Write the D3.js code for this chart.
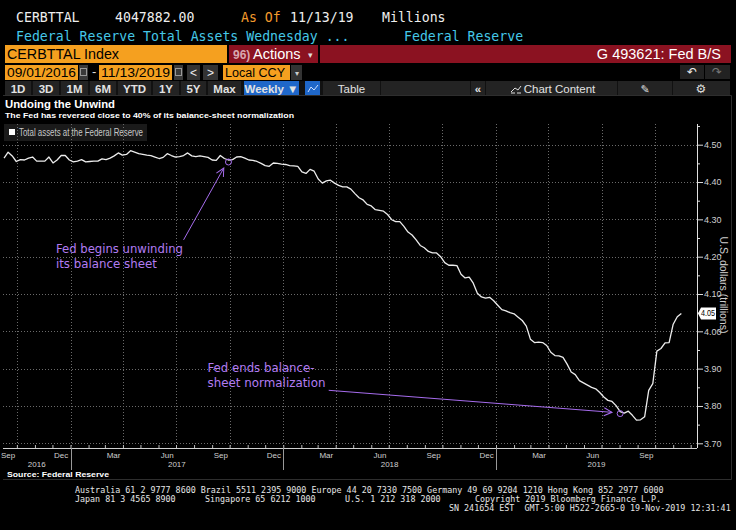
<!DOCTYPE html>
<html>
<head>
<meta charset="utf-8">
<script src="https://cdn.jsdelivr.net/npm/d3@7"></script>
<style>
body { margin: 0; background: #000; }
svg { display: block; }
</style>
</head>
<body>
<script>
// weekly total assets, trillions of dollars (week ending dates from firstWeek)
var firstWeek = "2016-09-09";
var assets = [
	4.464, 4.480, 4.470, 4.455, 4.460, 4.459, 4.464, 4.467, 4.456, 4.456,
	4.456, 4.467, 4.451, 4.459, 4.471, 4.471, 4.459, 4.454, 4.456, 4.460,
	4.454, 4.455, 4.456, 4.456, 4.462, 4.460, 4.464, 4.470, 4.478, 4.472,
	4.474, 4.484, 4.480, 4.476, 4.474, 4.472, 4.471, 4.467, 4.463, 4.466,
	4.476, 4.471, 4.467, 4.468, 4.471, 4.478, 4.470, 4.468, 4.470, 4.468,
	4.466, 4.459, 4.458, 4.471, 4.463, 4.459, 4.460, 4.467, 4.468, 4.464,
	4.459, 4.458, 4.455, 4.450, 4.444, 4.442, 4.451, 4.450, 4.448, 4.447,
	4.444, 4.443, 4.442, 4.427, 4.423, 4.434, 4.429, 4.408, 4.397, 4.403,
	4.405, 4.397, 4.391, 4.387, 4.387, 4.381, 4.369, 4.358, 4.352, 4.340,
	4.336, 4.326, 4.324, 4.322, 4.313, 4.299, 4.294, 4.294, 4.281, 4.266,
	4.258, 4.245, 4.230, 4.224, 4.214, 4.210, 4.210, 4.200, 4.184, 4.177,
	4.177, 4.176, 4.153, 4.143, 4.145, 4.129, 4.102, 4.092, 4.089, 4.091,
	4.082, 4.070, 4.058, 4.055, 4.050, 4.047, 4.038, 4.029, 4.014, 3.979,
	3.970, 3.971, 3.970, 3.962, 3.944, 3.935, 3.934, 3.930, 3.912, 3.891,
	3.884, 3.868, 3.862, 3.856, 3.850, 3.846, 3.836, 3.824, 3.815, 3.812,
	3.801, 3.785, 3.781, 3.786, 3.775, 3.762, 3.763, 3.771, 3.842, 3.860,
	3.947, 3.954, 3.969, 3.970, 4.019, 4.039, 4.048
];
var yTicks = [3.70, 3.80, 3.90, 4.00, 4.10, 4.20, 4.30, 4.40, 4.50];
var yMinor = [3.75, 3.85, 3.95, 4.05, 4.15, 4.25, 4.35, 4.45, 4.55];
var labelMonths = ["2016-09", "2016-12", "2017-03", "2017-06", "2017-09", "2017-12", "2018-03",
	"2018-06", "2018-09", "2018-12", "2019-03", "2019-06", "2019-09"];
var years = [2016, 2017, 2018, 2019];
var lastValue = "4.05";

var notes = [
	{ text: ["Fed begins unwinding", "its balance sheet"], widths: [127, 101],
		textAt: ["2016-12-07", 4.210], from: ["2017-07-14", 4.245], to: ["2017-09-21", 4.4375], point: 55 },
	{ text: ["Fed ends balance-", "sheet normalization"], widths: [107, 118],
		textAt: ["2017-08-24", 3.891], from: ["2018-03-20", 3.842], to: ["2019-07-19", 3.783], point: 151 }
];

var mono = "'DejaVu Sans Mono', 'Liberation Mono', monospace";
var sans = "'Liberation Sans', Arial, sans-serif";
var orange = "#f5a01f";
var red = "#8b1221";
var cyan = "#45c8e8";
var purple = "#a66ced";

var parseDay = d3.timeParse("%Y-%m-%d");
var parseMonth = d3.timeParse("%Y-%m");
var start = parseDay(firstWeek);
var dates = assets.map(function (v, i) { return d3.timeDay.offset(start, 7 * i); });

var svg = d3.select("body")
	.append("svg")
	.attr("width", 736)
	.attr("height", 530)
	.style("background", "#000");

function text(g, x, y, s, size, fill, font) {
	return g.append("text")
		.attr("x", x)
		.attr("y", y)
		.attr("font-family", font || sans)
		.attr("font-size", size + "px")
		.attr("fill", fill)
		.text(s);
}

function box(x0, x1, y0, y1, fill) {
	return svg.append("rect")
		.attr("x", x0)
		.attr("y", y0)
		.attr("width", x1 - x0)
		.attr("height", y1 - y0)
		.attr("fill", fill);
}

// ---- terminal header
text(svg, 16, 22, "CERBTTAL", 13.2, "#eee", mono);
text(svg, 115, 22, "4047882.00", 13.2, "#eee", mono);
text(svg, 241, 22, "As Of", 13.2, "#f39a2c", mono);
text(svg, 290, 22, "11/13/19", 13.2, "#eee", mono);
text(svg, 382, 22, "Millions", 13.2, "#eee", mono);
text(svg, 16, 41, "Federal Reserve Total Assets Wednesday ...", 13.2, cyan, mono);
text(svg, 404, 41, "Federal Reserve", 13.2, cyan, mono);

box(5, 227, 45, 63, orange);
text(svg, 7, 59, "CERBTTAL Index", 15, "#000").attr("textLength", 112).attr("lengthAdjust", "spacingAndGlyphs");
box(229, 318, 45, 63, red);
text(svg, 233, 59, "96)", 12, "#d8a8b0").attr("font-weight", "bold");
text(svg, 253, 59, "Actions", 14.5, "#fff");
text(svg, 308, 58, "\u25BE", 9, "#ddd");
box(320, 731, 45, 63, red);
text(svg, 721, 59, "G 493621: Fed B/S", 14.5, "#fff").attr("text-anchor", "end");

box(5, 78, 65, 80, orange);
text(svg, 7, 77, "09/01/2016", 12.5, "#000").attr("textLength", 69).attr("lengthAdjust", "spacingAndGlyphs");
box(79, 88, 65, 80, "#3a3a3a");
box(99, 172, 65, 80, orange);
text(svg, 101, 77, "11/13/2019", 12.5, "#000").attr("textLength", 69).attr("lengthAdjust", "spacingAndGlyphs");
box(174, 183, 65, 80, "#3a3a3a");
[80.5, 175.5].forEach(function (x) {
	svg.append("rect").attr("x", x).attr("y", 68.5).attr("width", 6).attr("height", 7)
		.attr("fill", "none").attr("stroke", "#999");
});
text(svg, 92, 76, "-", 13, "#ddd");
box(187, 200, 65, 80, "#333");
text(svg, 193.5, 77, "<", 12, "#eee").attr("text-anchor", "middle");
box(203, 218, 65, 80, "#333");
text(svg, 210.5, 77, ">", 12, "#eee").attr("text-anchor", "middle");
box(223, 290, 65, 80, orange);
text(svg, 225, 77, "Local CCY", 12.5, "#000").attr("textLength", 60).attr("lengthAdjust", "spacingAndGlyphs");
box(291, 302, 65, 80, "#333");
text(svg, 296.5, 76, "\u25BE", 8, "#ccc").attr("text-anchor", "middle");
box(680, 704, 65, 79, "#222");
box(705, 730, 65, 79, "#222");
text(svg, 692, 76, "\u21B6", 12, "#eee", "'DejaVu Sans'").attr("text-anchor", "middle");
text(svg, 717, 76, "\u21B7", 12, "#777", "'DejaVu Sans'").attr("text-anchor", "middle");

box(5, 730, 81, 96, "#111");
var buttons = [
	["1D", 5, 31], ["3D", 33, 59], ["1M", 61, 88], ["6M", 90, 116], ["YTD", 118, 151],
	["1Y", 153, 179], ["5Y", 181, 206], ["Max", 208, 241], ["Weekly \u25BC", 244, 299],
	["", 305, 320], ["Table", 323, 380], ["", 381, 470], ["\u00AB", 471, 485],
	["Chart Content", 486, 617], ["", 618, 672], ["", 673, 730]
];
buttons.forEach(function (b) {
	var blue = b[0].indexOf("Weekly") === 0 || b[1] === 305;
	box(b[1], b[2], 81, 96, blue ? "#1f67c9" : "#232323");
	if (b[0]) {
		text(svg, (b[1] + b[2]) / 2 + (b[0] === "Chart Content" ? 8 : 0), 92.5, b[0], 11.5, "#e2e2e2")
			.attr("text-anchor", "middle")
			.attr("font-weight", b[0] === "Table" || b[0] === "Chart Content" ? "normal" : "bold");
	}
});
svg.append("path").attr("d", "M308,92 L311,87 L314,90 L318,85").attr("fill", "none").attr("stroke", "#cfe0ff");
svg.append("path").attr("d", "M511,92 L515,88 L518,90 L521,86 M511,93 h4 M517,93 h4").attr("fill", "none").attr("stroke", "#ddd");
text(svg, 645, 93, "\u270E", 11, "#ddd", "'DejaVu Sans'").attr("text-anchor", "middle");
text(svg, 701, 93, "\u2699", 12, "#ddd", "'DejaVu Sans'").attr("text-anchor", "middle");

// ---- chart frame
svg.append("path")
	.attr("d", "M3,95.5 H731.5 V479.5 H3")
	.attr("fill", "none")
	.attr("stroke", "#2e2e2e");

text(svg, 5, 108, "Undoing the Unwind", 11.5, "#fff").attr("font-weight", "bold")
	.attr("textLength", 110).attr("lengthAdjust", "spacingAndGlyphs");
text(svg, 5, 118, "The Fed has reversed close to 40% of its balance-sheet normalization", 8, "#fff")
	.attr("font-weight", "bold").attr("textLength", 289).attr("lengthAdjust", "spacingAndGlyphs");
box(4, 147, 124, 141, "#1a1a1a");
box(9, 15, 129, 135, "#fff");
text(svg, 19, 136, "Total assets at the Federal Reserve", 10, "#c8c8c8")
	.attr("textLength", 124).attr("lengthAdjust", "spacingAndGlyphs");

// ---- plot
var plotLeft = 3, plotRight = 697, plotTop = 124, plotBottom = 448;

var x = d3.scaleTime()
	.domain([new Date(2017, 0, 1), new Date(2019, 0, 1)])
	.range([70.5, 496]);
var y = d3.scaleLinear()
	.domain([3.70, 4.50])
	.range([443.3, 144.7]);
var left = x.invert(plotLeft), right = x.invert(plotRight);

var grid = svg.append("g")
	.attr("stroke", "#6a6a6a")
	.attr("stroke-dasharray", "1,2");
yTicks.forEach(function (v) {
	grid.append("line")
		.attr("x1", plotLeft).attr("x2", plotRight)
		.attr("y1", Math.round(y(v)) + 0.5).attr("y2", Math.round(y(v)) + 0.5);
});
d3.timeMonth.range(d3.timeMonth.ceil(left), right)
	.filter(function (d) { return d.getMonth() % 3 === 0; })
	.forEach(function (d) {
		grid.append("line")
			.attr("x1", Math.round(x(d)) + 0.5).attr("x2", Math.round(x(d)) + 0.5)
			.attr("y1", plotTop).attr("y2", plotBottom);
	});

svg.append("path")
	.datum(assets)
	.attr("fill", "none")
	.attr("stroke", "#ececec")
	.attr("stroke-width", 1.3)
	.attr("stroke-linejoin", "round")
	.attr("d", d3.line()
		.x(function (d, i) { return x(dates[i]); })
		.y(function (d) { return y(d); }));

// x axis
var xAxisG = svg.append("g")
	.attr("transform", "translate(0," + plotBottom + ")")
	.call(d3.axisBottom(x)
		.tickValues(d3.timeMonth.range(d3.timeMonth.ceil(left), right))
		.tickSize(-3)
		.tickFormat(""));
xAxisG.select(".domain").remove();
xAxisG.selectAll("line").attr("stroke", "#bbb");
svg.append("line")
	.attr("x1", plotLeft).attr("x2", plotRight)
	.attr("y1", plotBottom + 0.5).attr("y2", plotBottom + 0.5)
	.attr("stroke", "#d0d0d0");

var monthAxis = svg.append("g")
	.attr("transform", "translate(0," + (plotBottom + 1) + ")")
	.call(d3.axisBottom(x)
		.tickValues(labelMonths.map(function (m) { return d3.timeDay.offset(parseMonth(m), 14); }))
		.tickSize(0)
		.tickPadding(3)
		.tickFormat(d3.timeFormat("%b")));
monthAxis.select(".domain").remove();
monthAxis.selectAll("text")
	.attr("fill", "#cfcfcf")
	.attr("font-family", sans)
	.attr("font-size", "8px");

years.forEach(function (yr) {
	var a = d3.max([new Date(yr, 0, 1), left]);
	var b = d3.min([new Date(yr + 1, 0, 1), right]);
	text(svg, (x(a) + x(b)) / 2, 467, String(yr), 8, "#cfcfcf").attr("text-anchor", "middle");
	if (x(new Date(yr, 0, 1)) > plotLeft) {
		svg.append("line")
			.attr("x1", Math.round(x(new Date(yr, 0, 1))) + 0.5)
			.attr("x2", Math.round(x(new Date(yr, 0, 1))) + 0.5)
			.attr("y1", plotBottom).attr("y2", 470)
			.attr("stroke", "#999");
	}
});

// y axis
var yAxisG = svg.append("g")
	.attr("transform", "translate(" + plotRight + ",0)")
	.call(d3.axisRight(y)
		.tickValues(yTicks)
		.tickSize(6)
		.tickPadding(1)
		.tickFormat(d3.format(".2f")));
yAxisG.select(".domain").remove();
yAxisG.selectAll("line").attr("stroke", "#ddd");
yAxisG.selectAll("text")
	.attr("fill", "#cfcfcf")
	.attr("font-family", sans)
	.attr("font-size", "9px");
var yMinorG = svg.append("g")
	.attr("transform", "translate(" + plotRight + ",0)")
	.call(d3.axisRight(y).tickValues(yMinor).tickSize(3).tickFormat(""));
yMinorG.select(".domain").remove();
yMinorG.selectAll("line").attr("stroke", "#ddd");
svg.append("line")
	.attr("x1", plotRight + 0.5).attr("x2", plotRight + 0.5)
	.attr("y1", plotTop).attr("y2", plotBottom)
	.attr("stroke", "#e0e0e0");

text(svg, 0, 0, "U.S. dollars (trillions)", 10.5, "#cfcfcf")
	.attr("text-anchor", "middle")
	.attr("transform", "translate(720,285) rotate(90)");

// last value tag
var ly = y(assets[assets.length - 1]);
svg.append("path")
	.attr("d", "M" + (plotRight + 1) + "," + ly + " L" + (plotRight + 4) + "," + (ly - 6) + " H716 V" + (ly + 6) + " H" + (plotRight + 4) + " Z")
	.attr("fill", "#fff");
text(svg, 701, ly + 3, lastValue, 8.5, "#000")
	.attr("textLength", 14)
	.attr("lengthAdjust", "spacingAndGlyphs");

// annotations
var defs = svg.append("defs");
defs.append("marker")
	.attr("id", "arrow")
	.attr("markerUnits", "userSpaceOnUse")
	.attr("markerWidth", 12)
	.attr("markerHeight", 12)
	.attr("refX", 9)
	.attr("refY", 5)
	.attr("orient", "auto")
	.append("path")
	.attr("d", "M1,1 L9,5 L1,9")
	.attr("fill", "none")
	.attr("stroke", purple)
	.attr("stroke-width", 1);

notes.forEach(function (n) {
	var tx = x(parseDay(n.textAt[0])), ty = y(n.textAt[1]);
	n.text.forEach(function (s, k) {
		text(svg, tx, ty + k * 15, s, 12.5, "#b27cf2", "'DejaVu Sans', sans-serif")
			.attr("textLength", n.widths[k])
			.attr("lengthAdjust", "spacingAndGlyphs");
	});
	svg.append("line")
		.attr("x1", x(parseDay(n.from[0]))).attr("y1", y(n.from[1]))
		.attr("x2", x(parseDay(n.to[0]))).attr("y2", y(n.to[1]))
		.attr("stroke", purple)
		.attr("stroke-width", 1)
		.attr("marker-end", "url(#arrow)");
	svg.append("circle")
		.attr("cx", x(dates[n.point]))
		.attr("cy", y(assets[n.point]) + 2)
		.attr("r", 3)
		.attr("fill", "none")
		.attr("stroke", purple);
});

text(svg, 7, 477, "Source: Federal Reserve", 8, "#fff").attr("font-weight", "bold")
	.attr("textLength", 102).attr("lengthAdjust", "spacingAndGlyphs");

// ---- terminal footer
var foot = [
	[75, 493, "Australia 61 2 9777 8600 Brazil 5511 2395 9000 Europe 44 20 7330 7500 Germany 49 69 9204 1210 Hong Kong 852 2977 6000"],
	[75, 502, "Japan 81 3 4565 8900"],
	[205, 502, "Singapore 65 6212 1000"],
	[345, 502, "U.S. 1 212 318 2000"],
	[475, 502, "Copyright 2019 Bloomberg Finance L.P."],
	[449, 511, "SN 241654 EST  GMT-5:00 H522-2665-0 19-Nov-2019 12:31:41"]
];
foot.forEach(function (f) {
	text(svg, f[0], f[1], f[2], 8.4, "#e6e6e6", mono)
		.attr("textLength", f[2].length * 5.03)
		.attr("lengthAdjust", "spacingAndGlyphs")
		.style("white-space", "pre");
});
</script>
</body>
</html>
